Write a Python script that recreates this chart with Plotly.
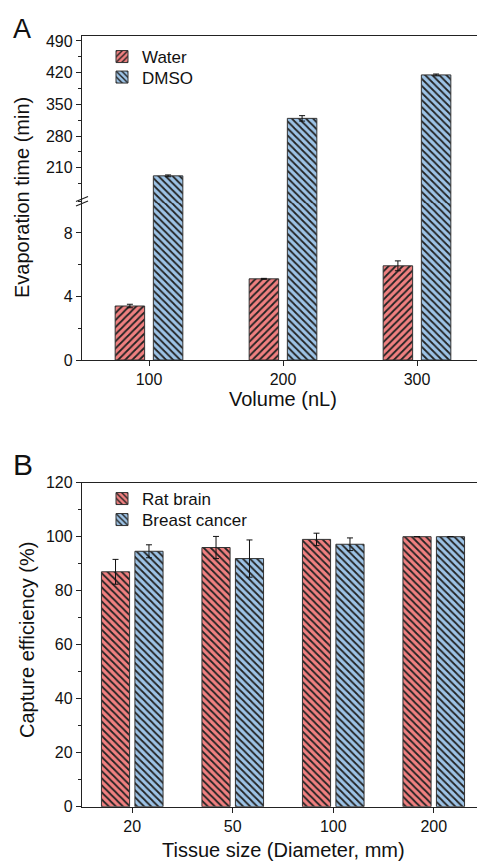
import plotly.graph_objects as go

# ---------------- data ----------------
volumes = ["100", "200", "300"]
water_time = [3.40, 5.11, 5.93]
water_err = [0.11, 0.03, 0.31]
dmso_time = [192, 319, 415]
dmso_err = [2, 6, 2]

tissue_sizes = ["20", "50", "100", "200"]
rat_brain = [87.0, 96.0, 99.0, 100.0]
rat_brain_err = [4.6, 4.1, 2.3, 0.0]
breast_cancer = [94.6, 91.9, 97.2, 100.0]
breast_cancer_err = [2.4, 6.9, 2.35, 0.0]

upper_ticks = [210, 280, 350, 420, 490]
upper_minor = [175, 245, 315, 385, 455]

# ---------------- style ----------------
W, H = 485, 863          # browser window
OFF = 8                  # default body margin of the page
FW, FH = W - OFF, H - OFF
RED = "#F08080"
BLUE = "#9DC3E6"
EDGE = "#333333"
AX = "#222222"
FONT = "Liberation Sans, Arial, Helvetica, sans-serif"

def px_x(x):
    return (x - OFF) / FW

def px_y(y):
    return 1 - (y - OFF) / FH

X0, X1 = 82, 484
A_BOT, A_BRK_LO, A_BRK_HI, A_TOP = 360, 198, 203, 36
B_BOT, B_TOP = 806.7, 482.7

fig = go.Figure()

def pattern(shape, bg):
    return dict(shape=shape, fgcolor="#222222", bgcolor=bg, size=5, solidity=0.35)

err_style = dict(type="data", color="#111111", thickness=1, width=3)

# Panel A lower
fig.add_trace(go.Bar(
    x=volumes, y=water_time, name="Water", xaxis="x", yaxis="y",
    marker=dict(color=RED, line=dict(color=EDGE, width=1), pattern=pattern("/", RED)),
    error_y=dict(array=water_err, **err_style),
    width=0.22, offset=-0.2525, legend="legend",
))
fig.add_trace(go.Bar(
    x=volumes, y=dmso_time, name="DMSO", xaxis="x", yaxis="y",
    marker=dict(color=BLUE, line=dict(color=EDGE, width=1), pattern=pattern("\\", BLUE)),
    width=0.22, offset=0.0325, legend="legend2",
))
# Panel A upper (same DMSO data shown above the break)
fig.add_trace(go.Bar(
    x=volumes, y=dmso_time, name="DMSO", xaxis="x2", yaxis="y2", showlegend=False,
    marker=dict(color=BLUE, line=dict(color=EDGE, width=1), pattern=pattern("\\", BLUE)),
    error_y=dict(array=dmso_err, **err_style),
    width=0.22, offset=0.0325,
))

# Panel B
fig.add_trace(go.Bar(
    x=tissue_sizes, y=rat_brain, name="Rat brain", xaxis="x3", yaxis="y3",
    marker=dict(color=RED, line=dict(color=EDGE, width=1), pattern=pattern("\\", RED)),
    error_y=dict(array=rat_brain_err, **err_style),
    width=0.28, offset=-0.3065, legend="legend3",
))
fig.add_trace(go.Bar(
    x=tissue_sizes, y=breast_cancer, name="Breast cancer", xaxis="x3", yaxis="y3",
    marker=dict(color=BLUE, line=dict(color=EDGE, width=1), pattern=pattern("\\", BLUE)),
    error_y=dict(array=breast_cancer_err, **err_style),
    width=0.28, offset=0.0265, legend="legend4",
))

tickfont = dict(family=FONT, size=16, color="#111111")
axis_common = dict(showline=True, linecolor=AX, linewidth=1.3, ticks="outside",
                   tickcolor=AX, tickwidth=1.2, ticklen=5, tickfont=tickfont,
                   showgrid=False, zeroline=False, automargin=False)

def legend_at(top_px):
    return dict(x=px_x(102), y=px_y(top_px), xanchor="left", yanchor="top",
                font=dict(family=FONT, size=17, color="#111111"),
                bgcolor="rgba(0,0,0,0)", itemwidth=30, tracegroupgap=0)

xdom = [px_x(X0), px_x(X1)]
fig.update_layout(
    template="none",
    width=FW, height=FH,
    margin=dict(l=0, r=0, t=0, b=0, autoexpand=False),
    paper_bgcolor="white", plot_bgcolor="white",
    font=dict(family=FONT, color="#111111"),
    barmode="group",
    xaxis=dict(domain=xdom, anchor="y", type="category", **axis_common),
    yaxis=dict(domain=[px_y(A_BOT), px_y(A_BRK_LO)], anchor="x", range=[0, 10.2],
               tickvals=[0, 4, 8], mirror=True,
               minor=dict(tickvals=[2, 6, 10], ticklen=3, tickcolor=AX, ticks="outside"),
               **axis_common),
    xaxis2=dict(domain=xdom, anchor="y2", type="category", matches="x", side="top",
                showline=True, linecolor=AX, linewidth=1.3, ticks="",
                showticklabels=False, showgrid=False, zeroline=False, automargin=False),
    yaxis2=dict(domain=[px_y(A_BRK_HI), px_y(A_TOP)], anchor="x2", range=[132, 501],
                tickvals=upper_ticks, mirror=True,
                minor=dict(tickvals=upper_minor, ticklen=3, tickcolor=AX, ticks="outside"),
                **axis_common),
    xaxis3=dict(domain=xdom, anchor="y3", type="category", mirror=True, **axis_common),
    yaxis3=dict(domain=[px_y(B_BOT), px_y(B_TOP)], anchor="x3", range=[0, 120],
                dtick=20, mirror=True,
                minor=dict(dtick=10, ticklen=3, tickcolor=AX, ticks="outside"),
                **axis_common),
    legend=legend_at(39),
    legend2=legend_at(59.5),
    legend3=legend_at(481),
    legend4=legend_at(502),
)

annotations = [
    dict(text="A", x=px_x(11), y=px_y(12), xanchor="left", yanchor="top",
         font=dict(size=27, family=FONT, color="#111111")),
    dict(text="B", x=px_x(11), y=px_y(446), xanchor="left", yanchor="top",
         font=dict(size=30, family=FONT, color="#111111")),
    dict(text="Evaporation time (min)", x=px_x(22), y=px_y(198), textangle=-90,
         xanchor="center", yanchor="middle",
         font=dict(size=20, family=FONT, color="#111111")),
    dict(text="Volume (nL)", x=px_x(283), y=px_y(399), xanchor="center", yanchor="middle",
         font=dict(size=20, family=FONT, color="#111111")),
    dict(text="Capture efficiency (%)", x=px_x(27), y=px_y(640), textangle=-90,
         xanchor="center", yanchor="middle",
         font=dict(size=20, family=FONT, color="#111111")),
    dict(text="Tissue size (Diameter, mm)", x=px_x(283), y=px_y(850), xanchor="center",
         yanchor="middle", font=dict(size=20, family=FONT, color="#111111")),
]
for a in annotations:
    a.update(xref="paper", yref="paper", showarrow=False)
fig.update_layout(annotations=annotations)

# axis-break marks
shapes = []
for xc in (X0, X1):
    for yc in (A_BRK_LO + 1, A_BRK_HI + 0.5):
        shapes.append(dict(type="line", xref="paper", yref="paper",
                           x0=px_x(xc - 6), y0=px_y(yc + 2.5),
                           x1=px_x(xc + 6), y1=px_y(yc - 2.5),
                           line=dict(color=AX, width=1.3)))
fig.update_layout(shapes=shapes)

fig.write_html("out.html")
